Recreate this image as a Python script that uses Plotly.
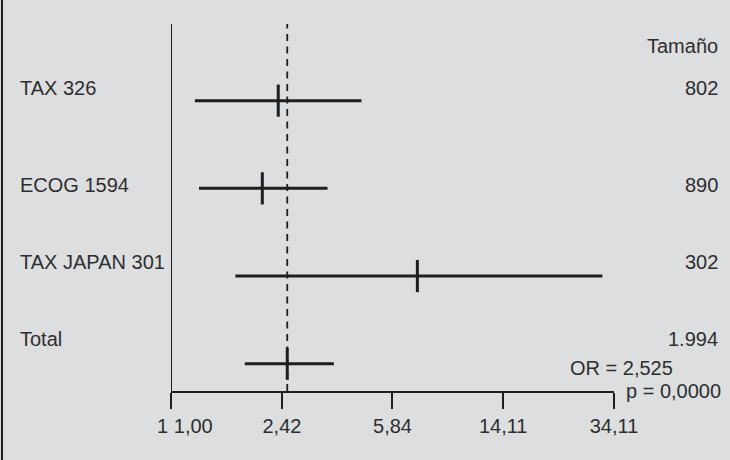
import plotly.graph_objects as go

# Forest plot data (odds ratios and 95% CI)
studies = ['TAX 326', 'ECOG 1594', 'TAX JAPAN 301', 'Total']
sizes = ['802', '890', '302', '1.994']
odds = [2.35, 2.07, 7.12, 2.525]
ci_low = [1.21, 1.25, 1.67, 1.80]
ci_high = [4.56, 3.48, 31.1, 3.66]
rows = [4, 3, 2, 1]

tick_vals = [1.00, 2.42, 5.84, 14.11, 34.11]
tick_text = ['\u00a0\u00a0\u00a0\u00a0\u00a01 1,00', '2,42', '5,84', '14,11', '34,11']

pooled_or = 2.525
pooled_text = 'OR = 2,525'
p_text = 'p = 0,0000'

ink = '#1e1e1e'
text_ink = '#2e2e2e'
bg = '#dddee0'
font_family = 'Liberation Sans, Arial, sans-serif'
# how far (px) each row's labels sit above its CI line
label_lift = [13, 3, 14, 25]

fig = go.Figure()

# CI bars with the point estimate as a short vertical tick
fig.add_trace(go.Scatter(
    x=odds, y=rows, mode='markers',
    marker=dict(symbol='line-ns', size=23, line=dict(width=3, color=ink), color=ink),
    error_x=dict(type='data', symmetric=False,
                 array=[h - o for h, o in zip(ci_high, odds)],
                 arrayminus=[o - l for o, l in zip(odds, ci_low)],
                 thickness=3, width=0, color=ink),
    showlegend=False, hoverinfo='skip'))

# dashed line at pooled OR
fig.add_shape(type='line', xref='x', yref='paper', x0=pooled_or, x1=pooled_or, y0=0, y1=1,
              line=dict(color=ink, width=1.8, dash='7px,5.5px'))
# vertical axis line at OR = 1 (runs down past the x axis like a tick)
fig.add_shape(type='line', xref='x', yref='paper', x0=1, x1=1, y0=-0.046, y1=1,
              line=dict(color=ink, width=2))
# left border of the box
fig.add_shape(type='line', xref='paper', yref='paper', x0=-0.3815, x1=-0.3815, y0=-0.2, y1=1.1,
              line=dict(color=ink, width=2))

annotations = []
for name, n, r, lift in zip(studies, sizes, rows, label_lift):
    annotations.append(dict(x=-0.3455, y=r, xref='paper', yref='y', text=name, showarrow=False,
                            xanchor='left', yanchor='middle', yshift=lift))
    annotations.append(dict(x=1.239, y=r, xref='paper', yref='y', text=n, showarrow=False,
                            xanchor='right', yanchor='middle', yshift=lift))
annotations.append(dict(x=1.239, y=0.94, xref='paper', yref='paper', text='Tamaño', showarrow=False,
                        xanchor='right', yanchor='middle'))
annotations.append(dict(x=1.137, y=0.0627, xref='paper', yref='paper', text=pooled_text, showarrow=False,
                        xanchor='right', yanchor='middle'))
annotations.append(dict(x=1.0226, y=0.0, xref='paper', yref='paper', text=p_text, showarrow=False,
                        xanchor='left', yanchor='middle'))

fig.update_layout(
    width=730, height=460,
    margin=dict(l=171, r=116, t=24, b=69),
    paper_bgcolor=bg, plot_bgcolor=bg,
    font=dict(family=font_family, size=20, color=text_ink),
    annotations=annotations,
    xaxis=dict(type='log', range=[0, 1.53288], tickvals=tick_vals, ticktext=tick_text,
               showgrid=False, zeroline=False, showline=True, linecolor=ink, linewidth=1.5,
               ticks='outside', ticklen=16, tickwidth=1.5, tickcolor=ink,
               tickfont=dict(size=20, color=text_ink)),
    yaxis=dict(range=[0.689, 4.874], showgrid=False, zeroline=False, showline=False,
               showticklabels=False, ticks=''),
)

fig.write_html("out.html", config={'displayModeBar': False},
               post_script="document.body.style.margin='0';")
